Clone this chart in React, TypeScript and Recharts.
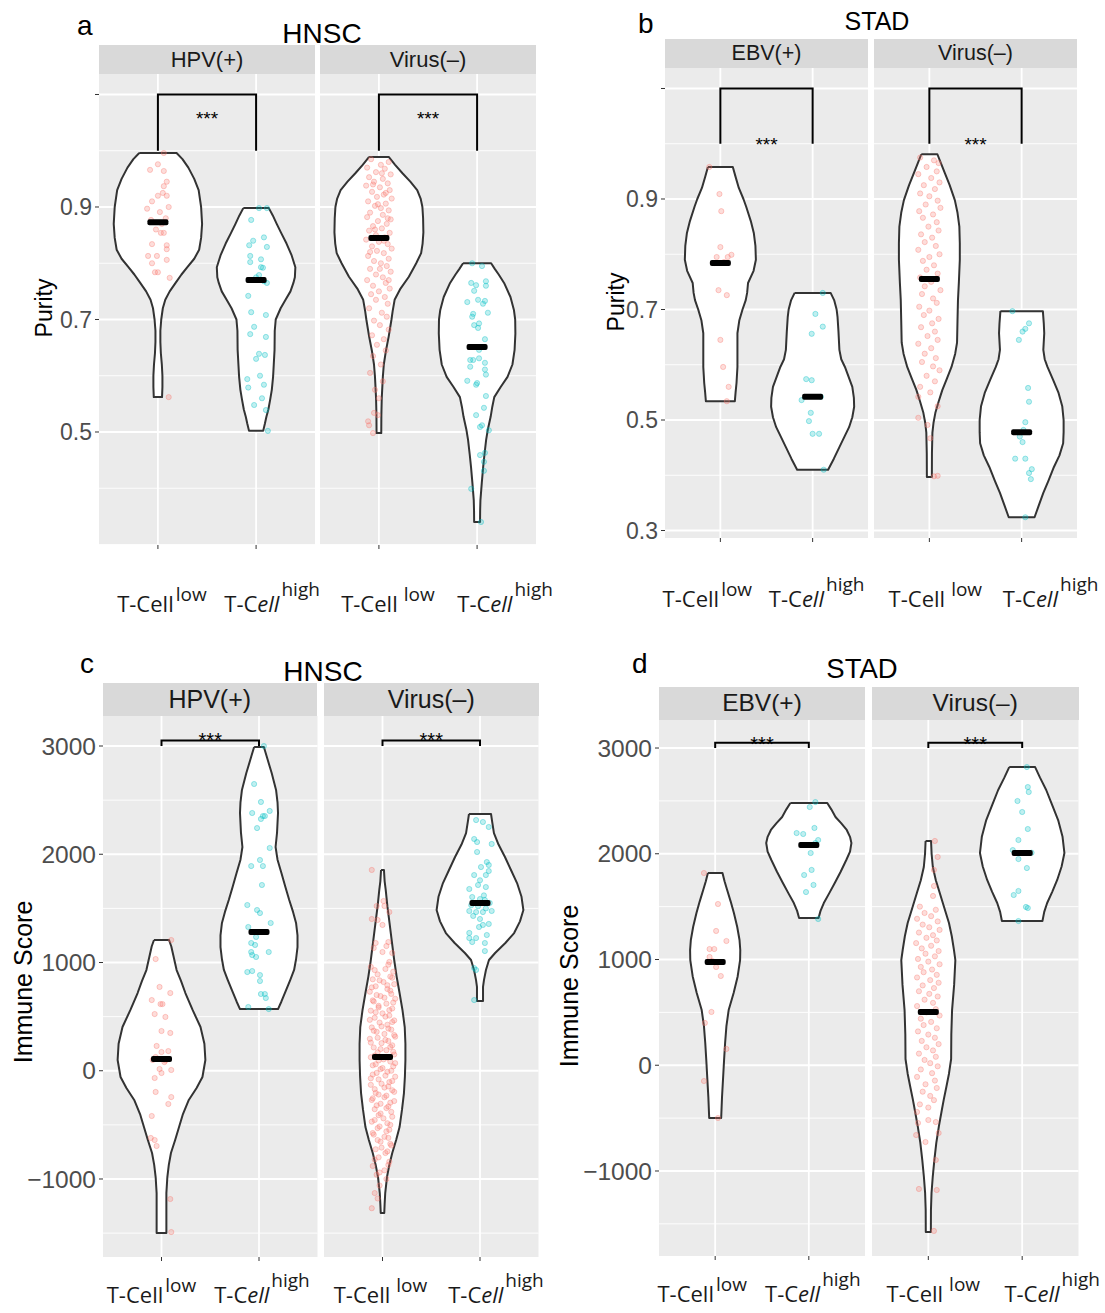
import React from 'react'
import { ScatterChart, Scatter, XAxis, YAxis, CartesianGrid } from 'recharts'

type Pair = [number, number]

// ---------- labels ----------
const hnscFacets = ['HPV(+)', 'Virus(\u2013)']
const stadFacets = ['EBV(+)', 'Virus(\u2013)']
const groupColors = ['#F8766D', '#00BFC4']

// ---------- axis ticks ----------
const purityTicksA = [0.5, 0.7, 0.9, 1.1]
const purityMinorA = [0.3, 0.4, 0.6, 0.8, 1.0]
const purityTicksB = [0.3, 0.5, 0.7, 0.9, 1.1]
const purityMinorB = [0.4, 0.6, 0.8, 1.0]
const scoreTicks = [-1000, 0, 1000, 2000, 3000]
const scoreMinor = [-1500, -500, 500, 1500, 2500]

// ---------- violin outlines: [value, half width in category units] ----------
const hnscHpvLowShape: Pair[] = [[0.996, 0.19], [0.985, 0.25], [0.97, 0.31], [0.95, 0.37], [0.93, 0.415], [0.9, 0.44], [0.87, 0.45], [0.845, 0.44], [0.824, 0.42], [0.808, 0.37], [0.793, 0.3], [0.78, 0.24], [0.765, 0.18], [0.75, 0.12], [0.735, 0.075], [0.72, 0.05], [0.7, 0.034], [0.68, 0.025], [0.66, 0.025], [0.64, 0.03], [0.62, 0.04], [0.6, 0.046], [0.58, 0.046], [0.562, 0.042]]
const hnscHpvHighShape: Pair[] = [[0.898, 0.13], [0.885, 0.17], [0.87, 0.21], [0.854, 0.255], [0.835, 0.31], [0.815, 0.36], [0.793, 0.4], [0.775, 0.395], [0.765, 0.38], [0.75, 0.35], [0.735, 0.3], [0.72, 0.25], [0.7, 0.2], [0.68, 0.19], [0.646, 0.188], [0.62, 0.18], [0.598, 0.173], [0.575, 0.16], [0.557, 0.143], [0.54, 0.125], [0.527, 0.105], [0.515, 0.09], [0.502, 0.072]]
const hnscNegLowShape: Pair[] = [[0.989, 0.1], [0.975, 0.165], [0.96, 0.24], [0.945, 0.32], [0.93, 0.39], [0.915, 0.425], [0.9, 0.443], [0.88, 0.45], [0.855, 0.453], [0.835, 0.445], [0.818, 0.43], [0.8, 0.38], [0.776, 0.305], [0.755, 0.22], [0.735, 0.16], [0.715, 0.14], [0.7, 0.128], [0.67, 0.1], [0.645, 0.072], [0.62, 0.05], [0.598, 0.04], [0.56, 0.029], [0.53, 0.025], [0.498, 0.024]]
const hnscNegHighShape: Pair[] = [[0.8, 0.143], [0.79, 0.18], [0.78, 0.22], [0.765, 0.275], [0.74, 0.34], [0.717, 0.375], [0.7, 0.388], [0.675, 0.39], [0.646, 0.382], [0.62, 0.36], [0.598, 0.31], [0.58, 0.24], [0.562, 0.175], [0.545, 0.155], [0.527, 0.138], [0.505, 0.11], [0.486, 0.092], [0.46, 0.075], [0.438, 0.062], [0.41, 0.048], [0.379, 0.034], [0.36, 0.031], [0.34, 0.03]]

const stadEbvLowShape: Pair[] = [[0.958, 0.135], [0.94, 0.165], [0.92, 0.2], [0.9, 0.25], [0.886, 0.28], [0.86, 0.33], [0.838, 0.363], [0.815, 0.38], [0.79, 0.385], [0.77, 0.36], [0.748, 0.3], [0.73, 0.29], [0.717, 0.275], [0.7, 0.24], [0.68, 0.205], [0.657, 0.185], [0.62, 0.185], [0.596, 0.185], [0.567, 0.175], [0.55, 0.165], [0.534, 0.157]]
const stadEbvHighShape: Pair[] = [[0.73, 0.195], [0.717, 0.233], [0.7, 0.26], [0.686, 0.27], [0.66, 0.28], [0.627, 0.29], [0.61, 0.31], [0.596, 0.35], [0.578, 0.39], [0.56, 0.43], [0.54, 0.447], [0.524, 0.45], [0.505, 0.43], [0.487, 0.395], [0.47, 0.345], [0.451, 0.29], [0.43, 0.23], [0.41, 0.168]]
const stadNegLowShape: Pair[] = [[0.981, 0.087], [0.965, 0.125], [0.947, 0.168], [0.925, 0.22], [0.898, 0.276], [0.875, 0.305], [0.85, 0.325], [0.82, 0.33], [0.79, 0.33], [0.75, 0.32], [0.717, 0.31], [0.68, 0.305], [0.64, 0.3], [0.62, 0.28], [0.596, 0.24], [0.575, 0.19], [0.554, 0.14], [0.533, 0.1], [0.513, 0.065], [0.495, 0.045], [0.477, 0.033], [0.44, 0.028], [0.397, 0.027]]
const stadNegHighShape: Pair[] = [[0.697, 0.23], [0.675, 0.24], [0.657, 0.245], [0.627, 0.235], [0.61, 0.25], [0.596, 0.28], [0.573, 0.34], [0.549, 0.4], [0.525, 0.44], [0.5, 0.455], [0.478, 0.455], [0.458, 0.45], [0.436, 0.41], [0.415, 0.35], [0.39, 0.29], [0.368, 0.235], [0.345, 0.185], [0.324, 0.14]]

const hnscHpvLowScoreShape: Pair[] = [[1208, 0.077], [1150, 0.1], [1050, 0.125], [930, 0.155], [830, 0.2], [718, 0.245], [560, 0.32], [404, 0.4], [250, 0.44], [99, 0.45], [-58, 0.42], [-160, 0.36], [-270, 0.28], [-400, 0.22], [-520, 0.18], [-640, 0.14], [-760, 0.097], [-870, 0.075], [-982, 0.06], [-1130, 0.05], [-1300, 0.05], [-1499, 0.05]]
const hnscHpvHighScoreShape: Pair[] = [[2991, 0.05], [2900, 0.08], [2750, 0.13], [2594, 0.175], [2480, 0.19], [2381, 0.195], [2200, 0.185], [2067, 0.17], [1950, 0.19], [1827, 0.23], [1700, 0.27], [1577, 0.31], [1465, 0.35], [1365, 0.38], [1250, 0.395], [1143, 0.395], [1030, 0.38], [931, 0.36], [838, 0.32], [718, 0.265], [640, 0.23], [570, 0.195]]
const hnscNegLowScoreShape: Pair[] = [[1855, 0.015], [1750, 0.022], [1670, 0.033], [1520, 0.05], [1365, 0.072], [1200, 0.095], [1023, 0.12], [870, 0.145], [718, 0.175], [560, 0.205], [404, 0.228], [250, 0.235], [99, 0.235], [-50, 0.23], [-206, 0.22], [-360, 0.2], [-520, 0.175], [-640, 0.14], [-760, 0.1], [-870, 0.07], [-982, 0.046], [-1130, 0.028], [-1230, 0.022], [-1314, 0.018]]
const hnscNegHighScoreShape: Pair[] = [[2372, 0.113], [2300, 0.125], [2196, 0.143], [2090, 0.19], [1975, 0.256], [1850, 0.32], [1734, 0.38], [1610, 0.425], [1485, 0.445], [1380, 0.41], [1272, 0.35], [1180, 0.26], [1088, 0.155], [1023, 0.092], [931, 0.061], [840, 0.041], [774, 0.031], [644, 0.031]]

const stadEbvLowScoreShape: Pair[] = [[1818, 0.078], [1740, 0.1], [1657, 0.128], [1550, 0.165], [1440, 0.2], [1310, 0.235], [1184, 0.26], [1090, 0.268], [995, 0.266], [840, 0.24], [683, 0.197], [522, 0.144], [370, 0.12], [210, 0.106], [50, 0.095], [-111, 0.085], [-300, 0.073], [-499, 0.064]]
const stadEbvHighScoreShape: Pair[] = [[2480, 0.197], [2420, 0.24], [2348, 0.285], [2290, 0.345], [2225, 0.405], [2160, 0.44], [2102, 0.455], [2020, 0.44], [1941, 0.4], [1830, 0.34], [1723, 0.277], [1630, 0.22], [1534, 0.16], [1460, 0.125], [1392, 0.104]]
const stadNegLowScoreShape: Pair[] = [[2121, 0.029], [2000, 0.035], [1875, 0.048], [1750, 0.08], [1629, 0.122], [1490, 0.17], [1345, 0.22], [1220, 0.25], [1090, 0.273], [995, 0.288], [760, 0.275], [522, 0.253], [290, 0.245], [59, 0.243], [-80, 0.22], [-206, 0.192], [-323, 0.165], [-423, 0.144], [-580, 0.112], [-735, 0.085], [-900, 0.064], [-1057, 0.047], [-1210, 0.034], [-1369, 0.028], [-1577, 0.027]]
const stadNegHighScoreShape: Pair[] = [[2820, 0.138], [2720, 0.19], [2603, 0.256], [2460, 0.32], [2319, 0.383], [2160, 0.43], [2007, 0.45], [1880, 0.42], [1752, 0.373], [1640, 0.32], [1534, 0.266], [1450, 0.235], [1364, 0.216]]

// ---------- jittered samples: [x offset, value] ----------
const hnscHpvLowPoints: Pair[] = [[0.06, 0.996], [0, 0.976], [-0.08, 0.966], [0.06, 0.964], [0.09, 0.945], [0.06, 0.937], [0, 0.92], [0.05, 0.925], [0.09, 0.92], [-0.06, 0.91], [0.11, 0.9], [-0.11, 0.897], [0.02, 0.891], [-0.07, 0.877], [0.03, 0.854], [0.06, 0.854], [0.09, 0.832], [-0.06, 0.834], [0.09, 0.825], [-0.1, 0.813], [-0.01, 0.813], [0.09, 0.806], [-0.06, 0.8], [-0.03, 0.784], [0, 0.784], [0.12, 0.774], [0.11, 0.562], [0.04, 0.87], [-0.02, 0.86], [0.08, 0.88]]
const hnscHpvHighPoints: Pair[] = [[0.03, 0.898], [0.11, 0.898], [-0.05, 0.877], [-0.03, 0.84], [0.08, 0.846], [-0.07, 0.832], [0.11, 0.829], [-0.06, 0.813], [0.05, 0.807], [-0.06, 0.802], [0.05, 0.793], [0.07, 0.792], [0.03, 0.779], [0, 0.775], [0.08, 0.768], [0.11, 0.765], [-0.08, 0.742], [-0.05, 0.713], [0.1, 0.708], [-0.02, 0.687], [-0.06, 0.674], [0.1, 0.669], [0.03, 0.639], [0.09, 0.637], [0, 0.63], [-0.09, 0.594], [0.04, 0.6], [0.08, 0.584], [-0.08, 0.579], [0.06, 0.56], [-0.02, 0.548], [0.1, 0.539], [0.12, 0.502]]
const hnscNegLowPoints: Pair[] = [[-0.08, 0.985], [0.1, 0.98], [0.02, 0.975], [-0.12, 0.97], [0.06, 0.968], [-0.03, 0.962], [0.12, 0.958], [-0.1, 0.953], [0.04, 0.95], [-0.05, 0.945], [0.09, 0.942], [-0.13, 0.938], [0.01, 0.935], [0.11, 0.93], [-0.07, 0.927], [0.05, 0.922], [-0.02, 0.918], [0.13, 0.915], [-0.11, 0.91], [0.07, 0.906], [-0.04, 0.902], [0.02, 0.898], [0.1, 0.894], [-0.09, 0.89], [0.04, 0.886], [-0.12, 0.882], [0.12, 0.878], [-0.01, 0.875], [0.08, 0.87], [-0.06, 0.866], [0.03, 0.862], [-0.1, 0.858], [0.11, 0.854], [-0.03, 0.85], [0.06, 0.846], [-0.13, 0.842], [0, 0.838], [0.09, 0.834], [-0.07, 0.83], [0.13, 0.826], [-0.02, 0.822], [0.05, 0.818], [-0.11, 0.813], [0.1, 0.808], [-0.05, 0.804], [0.02, 0.8], [0.08, 0.795], [-0.09, 0.79], [0.12, 0.785], [-0.03, 0.78], [0.04, 0.775], [-0.12, 0.77], [0.07, 0.765], [-0.06, 0.76], [0.11, 0.755], [0, 0.75], [-0.08, 0.745], [0.06, 0.74], [-0.03, 0.735], [0.09, 0.728], [-0.1, 0.72], [0.03, 0.712], [0.08, 0.705], [-0.05, 0.698], [0.01, 0.69], [0.1, 0.682], [-0.07, 0.672], [0.05, 0.665], [-0.02, 0.655], [0.07, 0.645], [-0.06, 0.635], [0.02, 0.62], [-0.09, 0.605], [0.04, 0.59], [-0.04, 0.575], [0, 0.56], [-0.05, 0.534], [-0.01, 0.53], [-0.11, 0.519], [-0.1, 0.512], [-0.06, 0.498], [0.03, 0.96], [-0.06, 0.94], [0.07, 0.925], [-0.01, 0.905], [0.09, 0.88], [-0.04, 0.86], [0.05, 0.84], [-0.09, 0.82], [0.01, 0.79], [0.1, 0.77]]
const hnscNegHighPoints: Pair[] = [[-0.05, 0.8], [0.05, 0.795], [-0.06, 0.765], [-0.01, 0.761], [0.09, 0.768], [0.09, 0.76], [-0.03, 0.751], [-0.1, 0.731], [0.01, 0.735], [0.06, 0.728], [0.08, 0.733], [-0.04, 0.71], [-0.05, 0.705], [0.11, 0.712], [-0.03, 0.69], [0.02, 0.693], [0.01, 0.685], [0.08, 0.665], [0.02, 0.646], [-0.07, 0.628], [-0.04, 0.628], [0.02, 0.631], [0.08, 0.623], [-0.07, 0.616], [0.08, 0.611], [0.09, 0.602], [-0.1, 0.591], [-0.01, 0.584], [0.0, 0.587], [0.09, 0.564], [0.07, 0.543], [-0.01, 0.53], [0.03, 0.509], [0.05, 0.512], [0.12, 0.503], [0.03, 0.459], [0.08, 0.463], [0.07, 0.447], [0.07, 0.431], [-0.06, 0.399], [0.04, 0.34]]

const stadEbvLowPoints: Pair[] = [[-0.12, 0.958], [-0.01, 0.909], [0.01, 0.878], [0, 0.813], [-0.04, 0.795], [0.08, 0.795], [0.12, 0.799], [-0.02, 0.735], [0.07, 0.726], [0, 0.645], [0.03, 0.596], [0.09, 0.56], [0.07, 0.534], [-0.06, 0.784], [0.04, 0.786]]
const stadEbvHighPoints: Pair[] = [[0.11, 0.73], [0.03, 0.692], [0.11, 0.669], [-0.01, 0.656], [-0.07, 0.574], [-0.01, 0.572], [-0.12, 0.536], [0.09, 0.542], [-0.02, 0.513], [-0.04, 0.498], [0, 0.475], [0.07, 0.475], [0.12, 0.41]]
const stadNegLowPoints: Pair[] = [[-0.1, 0.975], [0.05, 0.97], [0.1, 0.965], [-0.03, 0.958], [0.08, 0.95], [-0.12, 0.945], [0.02, 0.938], [0.11, 0.93], [-0.06, 0.925], [0.06, 0.918], [-0.1, 0.91], [0, 0.905], [0.09, 0.897], [-0.04, 0.89], [0.12, 0.884], [-0.11, 0.878], [0.04, 0.872], [-0.07, 0.866], [0.08, 0.858], [-0.01, 0.85], [0.1, 0.843], [-0.09, 0.836], [0.03, 0.83], [-0.05, 0.822], [0.07, 0.815], [-0.12, 0.808], [0.11, 0.8], [0, 0.795], [-0.07, 0.788], [0.05, 0.78], [-0.03, 0.772], [0.09, 0.765], [-0.1, 0.758], [0.02, 0.75], [-0.05, 0.742], [0.12, 0.735], [-0.08, 0.728], [0.04, 0.72], [0.08, 0.712], [-0.11, 0.705], [0, 0.698], [-0.06, 0.69], [0.1, 0.683], [0.03, 0.675], [-0.09, 0.668], [0.06, 0.66], [-0.02, 0.652], [0.09, 0.645], [-0.12, 0.638], [0.02, 0.63], [-0.05, 0.62], [0.07, 0.612], [-0.08, 0.605], [0.04, 0.597], [0.11, 0.59], [-0.03, 0.58], [0.06, 0.57], [-0.1, 0.56], [0.01, 0.55], [-0.12, 0.542], [0.09, 0.525], [-0.12, 0.504], [-0.02, 0.491], [0.01, 0.467], [0.05, 0.398], [0.09, 0.399]]
const stadNegHighPoints: Pair[] = [[-0.1, 0.697], [0.08, 0.675], [0.04, 0.665], [0.01, 0.66], [-0.03, 0.645], [0.07, 0.558], [0.08, 0.533], [0.04, 0.496], [0.02, 0.482], [-0.02, 0.47], [0.01, 0.46], [-0.07, 0.43], [0.04, 0.43], [0.11, 0.411], [0.08, 0.404], [0.1, 0.393], [0.04, 0.324]]

const hnscHpvLowScorePoints: Pair[] = [[0.1, 1208], [-0.06, 1032], [-0.02, 774], [0.09, 718], [-0.1, 653], [-0.01, 616], [0.01, 616], [-0.07, 524], [0.04, 497], [0, 367], [0.09, 349], [-0.05, 229], [0, 173], [0.07, 182], [-0.06, 127], [-0.02, 16], [0, -21], [0.1, 7], [-0.07, -67], [-0.06, -196], [0.1, -243], [0.07, -307], [-0.1, -418], [-0.11, -621], [-0.07, -640], [-0.05, -695], [0.09, -1185], [0.1, -1490], [0.04, 95], [-0.09, 100], [0.03, 80]]
const hnscHpvHighScorePoints: Pair[] = [[0.05, 3000], [-0.05, 2649], [0.02, 2483], [-0.07, 2381], [0.11, 2400], [0.04, 2353], [0.06, 2353], [0.02, 2326], [-0.02, 2242], [0.11, 2058], [0.01, 1947], [-0.08, 1891], [0.04, 1891], [0.03, 1716], [-0.12, 1531], [-0.02, 1485], [0.01, 1457], [-0.11, 1328], [0.12, 1365], [-0.03, 1236], [-0.08, 1180], [-0.04, 1162], [-0.08, 1097], [0.1, 1097], [-0.07, 1069], [-0.03, 1051], [-0.12, 912], [-0.07, 921], [0.01, 884], [0.01, 829], [0.02, 709], [0.06, 709], [0.07, 672], [-0.11, 589], [0.1, 570]]
const hnscNegLowScorePoints: Pair[] = [[-0.11, 1855], [-0.06, 1522], [0.02, 1522], [0.01, 1568], [-0.11, 1402], [-0.05, 1393], [0.07, 1466], [0, 1347], [0.06, 1189], [-0.07, 1180], [0.04, 1152], [-0.09, 1134], [0, 1097], [0.1, 1088], [0.07, 1005], [-0.12, 960], [0.03, 940], [0.11, 915], [-0.05, 890], [0.08, 870], [-0.1, 845], [0.01, 820], [0.12, 800], [-0.07, 780], [0.05, 755], [-0.13, 730], [0.09, 710], [-0.02, 690], [0.13, 665], [-0.09, 640], [0.04, 620], [-0.04, 600], [0.1, 575], [-0.12, 555], [0, 530], [0.07, 510], [-0.08, 490], [0.12, 465], [-0.03, 445], [0.05, 425], [-0.11, 400], [0.09, 380], [-0.06, 360], [0.02, 340], [0.13, 315], [-0.13, 295], [0.06, 275], [-0.01, 255], [0.1, 235], [-0.09, 215], [0.04, 190], [-0.05, 170], [0.12, 150], [-0.12, 125], [0.01, 105], [0.08, 85], [-0.07, 60], [0.11, 40], [-0.02, 15], [0.05, -10], [-0.1, -35], [0.13, -55], [-0.04, -80], [0.07, -105], [-0.12, -130], [0.02, -155], [0.1, -180], [-0.07, -205], [0.04, -230], [-0.1, -255], [0.12, -280], [-0.02, -305], [0.06, -330], [-0.08, -355], [0.09, -380], [-0.04, -410], [0.01, -440], [-0.11, -470], [0.08, -500], [-0.05, -530], [0.04, -560], [-0.09, -590], [0.06, -620], [-0.02, -655], [0.09, -690], [-0.07, -725], [0.03, -760], [-0.04, -800], [0.07, -840], [-0.1, -880], [0.02, -920], [-0.06, -960], [0.04, -1000], [-0.03, -1060], [-0.08, -1130], [-0.05, -1180], [-0.11, -1270], [0.06, 980], [-0.08, 930], [0.1, 860], [-0.03, 835], [0.05, 790], [-0.11, 770], [0.08, 740], [-0.06, 700], [0.02, 675], [-0.1, 650], [0.11, 630], [-0.04, 585], [0.07, 560], [-0.07, 540], [0.03, 500], [-0.13, 470], [0.1, 450], [-0.01, 410], [0.06, 390], [-0.09, 370], [0.12, 330], [-0.05, 305], [0.03, 285], [-0.12, 260], [0.08, 220], [-0.02, 200], [0.11, 175], [-0.08, 140], [0.05, 120], [-0.04, 95], [0.13, 70], [-0.1, 50], [0, 25], [0.09, 0], [-0.06, -20], [0.03, -45], [-0.12, -70], [0.1, -95], [-0.01, -120], [0.06, -145], [-0.08, -170], [0.12, -195], [-0.04, -220], [0.02, -245], [-0.11, -270], [0.08, -295], [-0.06, -320], [0.04, -345], [-0.02, -395], [0.1, -425], [-0.08, -455], [0.05, -485], [-0.03, -515], [0.07, -545], [-0.1, -575], [0.02, -610], [-0.05, -640], [0.08, -675], [-0.01, -710], [0.05, -745], [-0.08, -820], [0.06, -870], [-0.03, -940]]
const hnscNegHighScorePoints: Pair[] = [[-0.04, 2316], [0.03, 2298], [0.09, 2252], [-0.06, 2141], [-0.03, 2113], [0.12, 2095], [-0.03, 2021], [0.07, 1928], [0.01, 1882], [0.09, 1901], [-0.06, 1808], [0.06, 1808], [0.09, 1845], [-0.02, 1716], [-0.11, 1679], [0.06, 1697], [-0.08, 1605], [0, 1586], [0.05, 1577], [0.1, 1550], [-0.11, 1476], [-0.04, 1466], [0.03, 1466], [0.12, 1476], [-0.07, 1430], [0, 1402], [0.03, 1347], [0.09, 1356], [-0.01, 1328], [-0.11, 1273], [-0.11, 1226], [0.07, 1254], [-0.04, 1226], [-0.08, 1189], [0.05, 1180], [0.05, 1106], [-0.06, 949], [-0.04, 931], [-0.06, 653], [-0.02, 1520], [0.04, 1620], [-0.09, 1530], [0, 1760], [0.06, 1500]]

const stadEbvLowScorePoints: Pair[] = [[-0.12, 1818], [0.03, 1525], [0.01, 1270], [0.12, 1175], [-0.06, 1099], [-0.01, 1099], [-0.06, 1024], [0.01, 929], [0.06, 844], [-0.04, 504], [-0.11, 400], [0.12, 154], [-0.12, -149], [0.03, -499], [0.02, 976], [-0.03, 985]]
const stadEbvHighScorePoints: Pair[] = [[0.07, 2489], [0.01, 2442], [0.06, 2244], [-0.13, 2196], [-0.06, 2187], [0.1, 2130], [0.07, 2102], [0.02, 2007], [0.03, 1847], [-0.05, 1799], [0.05, 1705], [-0.03, 1638], [0.1, 1383]]
const stadNegLowScorePoints: Pair[] = [[0.07, 2121], [0.1, 1970], [0.06, 1847], [0.06, 1695], [0.05, 1601], [-0.09, 1500], [0.08, 1470], [-0.04, 1440], [0.03, 1410], [-0.12, 1385], [0.1, 1360], [-0.06, 1330], [0.01, 1305], [0.12, 1280], [-0.1, 1255], [0.05, 1230], [-0.02, 1205], [0.09, 1180], [-0.13, 1155], [0.03, 1130], [-0.07, 1105], [0.11, 1080], [-0.03, 1055], [0.07, 1030], [-0.11, 1005], [0, 980], [0.12, 955], [-0.08, 930], [0.04, 905], [-0.05, 880], [0.09, 855], [-0.12, 830], [0.02, 805], [0.11, 780], [-0.06, 755], [0.06, 730], [-0.1, 700], [0.01, 675], [0.1, 650], [-0.04, 620], [0.05, 590], [-0.12, 560], [0.08, 530], [-0.02, 500], [0.12, 470], [-0.08, 440], [0.03, 410], [-0.05, 380], [0.09, 350], [-0.11, 320], [0, 290], [0.07, 260], [-0.07, 230], [0.11, 200], [-0.02, 170], [0.05, 140], [-0.1, 110], [0.08, 80], [-0.04, 50], [0.02, 20], [0.1, -10], [-0.08, -40], [0.04, -75], [-0.12, -110], [0.07, -145], [-0.03, -180], [0.09, -215], [-0.06, -250], [0.02, -290], [0.06, -330], [-0.09, -370], [0, -400], [-0.12, -442], [-0.11, -546], [0, -518], [0.08, -537], [-0.13, -660], [0.11, -641], [-0.03, -726], [0.08, -896], [-0.1, -1170], [0.09, -1180], [0.06, -1567]]
const stadNegHighScorePoints: Pair[] = [[0.05, 2820], [0.06, 2631], [0.07, 2584], [-0.05, 2499], [0, 2395], [0.06, 2234], [-0.04, 2130], [-0.1, 2035], [-0.04, 1950], [0.05, 1865], [-0.04, 1648], [-0.09, 1610], [0.04, 1497], [0.06, 1487], [-0.04, 1364], [0.05, 2007], [0.1, 2010]]

// ---------- medians ----------
const purityMediansA = [0.873, 0.77, 0.845, 0.651]
const purityMediansB = [0.784, 0.542, 0.755, 0.478]
const scoreMediansC = [108, 1282, 127, 1550]
const scoreMediansD = [976, 2083, 503, 2007]

// ---------- types & helpers ----------
interface Group { shape: Pair[]; points: Pair[]; median: number }
interface FacetCfg { name: string; left: number; width: number; groups: Group[]; shifts: number[]; gap: number }
interface PanelCfg {
  letter: string; letterX: number; letterY: number
  title: string; titleX: number; titleY: number; titleSize: number
  yTitle: string; yTitleX: number; yTitleY: number; yTitleSize: number
  stripTop: number; stripH: number; stripSize: number
  plotTop: number; plotH: number
  domain: [number, number]; majors: number[]; minors: number[]
  tickFont: number; yAxisW: number; decimals: boolean
  bracket: [number, number]; star: number; starSize: number
  labelDy: number
  facets: FacetCfg[]
}

const outline = (shape: Pair[], center: number) => {
  const left = shape.map(([v, w]) => ({ x: center - w, y: v }))
  const right = [...shape].reverse().map(([v, w]) => ({ x: center + w, y: v }))
  return [...left, ...right, left[0]]
}

const purityFmt = (v: number) => (v === 1.1 ? '' : v.toFixed(1))
const scoreFmt = (v: number) => (v < 0 ? '\u2212' + Math.abs(v) : String(v))

const noDot = () => <g />

const dot = (color: string) => (p: any) => (
  <circle cx={p.cx} cy={p.cy} r={2.6} fill={color} fillOpacity={0.25} stroke={color} strokeOpacity={0.45} strokeWidth={0.8} />
)

const medianBar = (p: any) => (
  <rect x={p.cx - 10.5} y={p.cy - 3} width={21} height={6} rx={2} fill="#000" />
)

const grp = (shape: Pair[], points: Pair[], median: number): Group => ({ shape, points, median })

const panels: PanelCfg[] = [
  {
    letter: 'a', letterX: 77, letterY: 35, title: 'HNSC', titleX: 322, titleY: 43, titleSize: 28,
    yTitle: 'Purity', yTitleX: 52, yTitleY: 308, yTitleSize: 23,
    stripTop: 45, stripH: 29, stripSize: 22, plotTop: 74, plotH: 471,
    domain: [0.29911, 1.13644], majors: purityTicksA, minors: purityMinorA, tickFont: 23, yAxisW: 70, decimals: true,
    bracket: [1.1, 1.0], star: 1.045, starSize: 19, labelDy: 67,
    facets: [
      { name: hnscFacets[0], left: 99, width: 216, shifts: [4, 16], gap: 2, groups: [grp(hnscHpvLowShape, hnscHpvLowPoints, purityMediansA[0]), grp(hnscHpvHighShape, hnscHpvHighPoints, purityMediansA[1])] },
      { name: hnscFacets[1], left: 320, width: 216, shifts: [9, 28], gap: 6, groups: [grp(hnscNegLowShape, hnscNegLowPoints, purityMediansA[2]), grp(hnscNegHighShape, hnscNegHighPoints, purityMediansA[3])] },
    ],
  },
  {
    letter: 'b', letterX: 638, letterY: 33, title: 'STAD', titleX: 877, titleY: 30, titleSize: 25,
    yTitle: 'Purity', yTitleX: 624, yTitleY: 302, yTitleSize: 23,
    stripTop: 39, stripH: 29, stripSize: 21.5, plotTop: 68, plotH: 470,
    domain: [0.28643, 1.1371], majors: purityTicksB, minors: purityMinorB, tickFont: 23, yAxisW: 70, decimals: true,
    bracket: [1.1, 1.0], star: 0.987, starSize: 19, labelDy: 69,
    facets: [
      { name: stadFacets[0], left: 665, width: 203, shifts: [-13, 4], gap: 2, groups: [grp(stadEbvLowShape, stadEbvLowPoints, purityMediansB[0]), grp(stadEbvHighShape, stadEbvHighPoints, purityMediansB[1])] },
      { name: stadFacets[1], left: 874, width: 203, shifts: [6, 29], gap: 6, groups: [grp(stadNegLowShape, stadNegLowPoints, purityMediansB[2]), grp(stadNegHighShape, stadNegHighPoints, purityMediansB[3])] },
    ],
  },
  {
    letter: 'c', letterX: 80, letterY: 673, title: 'HNSC', titleX: 323, titleY: 681, titleSize: 28,
    yTitle: 'Immune Score', yTitleX: 32, yTitleY: 982, yTitleSize: 25,
    stripTop: 683, stripH: 33, stripSize: 25, plotTop: 716, plotH: 541,
    domain: [-1720.6, 3277.2], majors: scoreTicks, minors: scoreMinor, tickFont: 24.5, yAxisW: 90, decimals: false,
    bracket: [3050, 3000], star: 2991, starSize: 20, labelDy: 46,
    facets: [
      { name: hnscFacets[0], left: 102.5, width: 214.5, shifts: [-10, 3], gap: 2, groups: [grp(hnscHpvLowScoreShape, hnscHpvLowScorePoints, scoreMediansC[0]), grp(hnscHpvHighScoreShape, hnscHpvHighScorePoints, scoreMediansC[1])] },
      { name: hnscFacets[1], left: 324, width: 214.5, shifts: [-2, 16], gap: 6, groups: [grp(hnscNegLowScoreShape, hnscNegLowScorePoints, scoreMediansC[2]), grp(hnscNegHighScoreShape, hnscNegHighScorePoints, scoreMediansC[3])] },
    ],
  },
  {
    letter: 'd', letterX: 632, letterY: 673, title: 'STAD', titleX: 862, titleY: 678, titleSize: 27.5,
    yTitle: 'Immune Score', yTitleX: 578, yTitleY: 986, yTitleSize: 25,
    stripTop: 687, stripH: 33, stripSize: 24.5, plotTop: 720, plotH: 536,
    domain: [-1804, 3265], majors: scoreTicks, minors: scoreMinor, tickFont: 24.5, yAxisW: 90, decimals: false,
    bracket: [3050, 3000], star: 2972, starSize: 20, labelDy: 46,
    facets: [
      { name: stadFacets[0], left: 659, width: 206, shifts: [-13, 4], gap: 2, groups: [grp(stadEbvLowScoreShape, stadEbvLowScorePoints, scoreMediansD[0]), grp(stadEbvHighScoreShape, stadEbvHighScorePoints, scoreMediansD[1])] },
      { name: stadFacets[1], left: 872, width: 206.5, shifts: [5, 30], gap: 6, groups: [grp(stadNegLowScoreShape, stadNegLowScorePoints, scoreMediansD[2]), grp(stadNegHighScoreShape, stadNegHighScorePoints, scoreMediansD[3])] },
    ],
  },
]

const SANS = "'Liberation Sans', Arial, sans-serif"

function FacetChart({ p, f, first }: { p: PanelCfg; f: FacetCfg; first: boolean }) {
  const yW = first ? p.yAxisW : 0
  const renderTick = (props: any) => {
    const i = props.payload.value === 1 ? 0 : 1
    const hi = i === 1
    return (
      <text x={props.x + f.shifts[i]} y={p.plotH + p.labelDy} textAnchor="middle"
        fontFamily="'Open Sans', sans-serif" fontSize={22} fill="#1A1A1A">
        <tspan>T-C</tspan>
        <tspan fontStyle={hi ? 'italic' : 'normal'}>ell</tspan>
        <tspan dx={hi ? 2 : f.gap} dy={hi ? -16 : -11} fontSize={19} fontStyle="normal">{hi ? 'high' : 'low'}</tspan>
      </text>
    )
  }
  return (
    <div style={{ position: 'absolute', left: f.left - yW, top: p.plotTop }}>
      <ScatterChart width={f.width + yW} height={p.plotH + 80} margin={{ top: 0, right: 0, bottom: 0, left: 0 }}>
        <CartesianGrid fill="#EBEBEB" stroke="#FFFFFF" strokeWidth={0.9} horizontalValues={p.minors} vertical={false} />
        <CartesianGrid stroke="#FFFFFF" strokeWidth={1.8} horizontalValues={p.majors} verticalValues={[1, 2]} />
        <XAxis type="number" dataKey="x" domain={[0.4, 2.6]} allowDataOverflow ticks={[1, 2]} interval={0}
          axisLine={false} tickLine={{ stroke: '#333333' }} tickSize={4} height={80} tick={renderTick} />
        <YAxis type="number" dataKey="y" domain={p.domain} allowDataOverflow ticks={p.majors} interval={0}
          hide={!first} width={yW} axisLine={false} tickLine={{ stroke: '#333333' }} tickSize={4} tickMargin={3}
          tickFormatter={p.decimals ? purityFmt : scoreFmt} tick={{ fill: '#4D4D4D', fontSize: p.tickFont, fontFamily: SANS }} />
        {f.groups.map((g, i) => (
          <Scatter key={'v' + i} data={outline(g.shape, i + 1)} lineType="joint"
            line={{ stroke: '#333333', strokeWidth: 2, fill: '#FFFFFF', strokeLinejoin: 'round' }}
            shape={noDot} isAnimationActive={false} />
        ))}
        {f.groups.map((g, i) => (
          <Scatter key={'p' + i} data={g.points.map(([dx, v]) => ({ x: i + 1 + dx, y: v }))}
            shape={dot(groupColors[i])} isAnimationActive={false} />
        ))}
        <Scatter data={f.groups.map((g, i) => ({ x: i + 1, y: g.median }))} shape={medianBar} isAnimationActive={false} />
        <Scatter data={[{ x: 1, y: p.bracket[1] }, { x: 1, y: p.bracket[0] }, { x: 2, y: p.bracket[0] }, { x: 2, y: p.bracket[1] }]}
          lineType="joint" line={{ stroke: '#000000', strokeWidth: 2 }} shape={noDot} isAnimationActive={false} />
        <Scatter data={[{ x: 1.5, y: p.star }]} isAnimationActive={false}
          shape={(s: any) => <text x={s.cx} y={s.cy} textAnchor="middle" fontSize={p.starSize} fontFamily={SANS} fill="#000">***</text>} />
      </ScatterChart>
    </div>
  )
}

export default function App() {
  return (
    <div style={{ position: 'absolute', left: 0, top: 0, width: 1105, height: 1313, background: '#FFFFFF' }}>
      <style>{'.recharts-surface{overflow:visible}.recharts-wrapper{overflow:visible}'}</style>
      {panels.map((p, pi) => (
        <React.Fragment key={pi}>
          {p.facets.map((f, fi) => (
            <div key={'s' + fi} style={{
              position: 'absolute', left: f.left, top: p.stripTop, width: f.width, height: p.stripH,
              background: '#D9D9D9', display: 'flex', alignItems: 'center', justifyContent: 'center',
              fontFamily: SANS, fontSize: p.stripSize, color: '#1A1A1A', lineHeight: 1,
            }}>{f.name}</div>
          ))}
          {p.facets.map((f, fi) => <FacetChart key={'c' + fi} p={p} f={f} first={fi === 0} />)}
        </React.Fragment>
      ))}
      <svg width={1105} height={1313} style={{ position: 'absolute', left: 0, top: 0, pointerEvents: 'none' }}>
        {panels.map((p, pi) => (
          <g key={pi} fontFamily={SANS} fill="#000">
            <text x={p.letterX} y={p.letterY} fontSize={28}>{p.letter}</text>
            <text x={p.titleX} y={p.titleY} fontSize={p.titleSize} textAnchor="middle">{p.title}</text>
            <text x={p.yTitleX} y={p.yTitleY} fontSize={p.yTitleSize} textAnchor="middle"
              transform={`rotate(-90 ${p.yTitleX} ${p.yTitleY})`}>{p.yTitle}</text>
          </g>
        ))}
      </svg>
    </div>
  )
}
